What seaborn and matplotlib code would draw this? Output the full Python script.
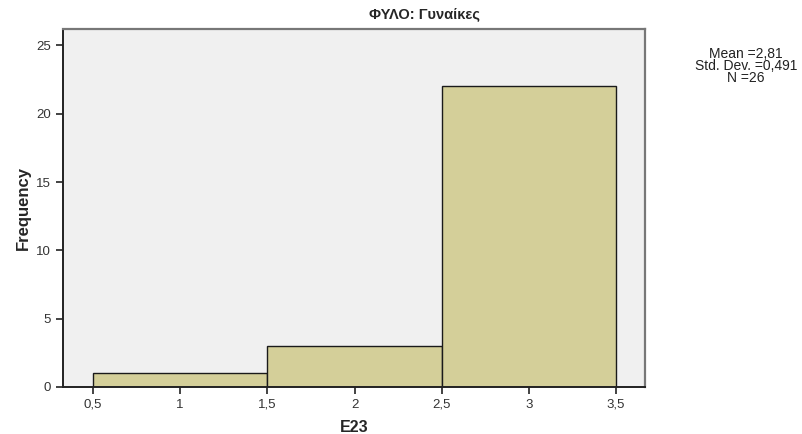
import numpy as np
import pandas as pd
import matplotlib
matplotlib.use("Agg")
import matplotlib.pyplot as plt
import seaborn as sns

# E23 responses (women) and how many gave each answer
values = [1, 2, 3]
counts = [1, 3, 22]
bin_edges = [0.5, 1.5, 2.5, 3.5]
x_ticks = [0.5, 1, 1.5, 2, 2.5, 3, 3.5]
x_ticklabels = ["0,5", "1", "1,5", "2", "2,5", "3", "3,5"]
y_ticks = [0, 5, 10, 15, 20, 25]

df = pd.DataFrame({"E23": values, "n": counts})
data = np.repeat(values, counts)
mean = data.mean()
sd = data.std(ddof=1)

sns.set_style("ticks")
plt.rcParams["font.family"] = ["Liberation Sans", "DejaVu Sans"]

fig = plt.figure(figsize=(8.03, 4.34), dpi=100)
ax = fig.add_axes([0.0785, 0.1083, 0.7247, 0.8249])
ax.set_facecolor("#f0f0f0")

sns.histplot(data=df, x="E23", weights="n", bins=bin_edges, ax=ax,
             color="#d4cf99", edgecolor="#1a1a1a", linewidth=1.0, alpha=1)

ax.set_xlim(0.328, 3.666)
ax.set_ylim(0, 26.2)
ax.set_xticks(x_ticks)
ax.set_xticklabels(x_ticklabels)
ax.set_yticks(y_ticks)
ax.tick_params(axis="both", direction="out", length=5, width=1.2,
               labelsize=9.5, colors="#222222", labelcolor="#333333")
ax.set_xlabel("E23", fontsize=11.5, fontweight="bold")
ax.xaxis.set_label_coords(0.5, -33 / 358)
ax.set_ylabel("Frequency", fontsize=12, fontweight="bold", labelpad=4)

for side in ["left", "bottom"]:
    ax.spines[side].set_color("#222222")
    ax.spines[side].set_linewidth(1.4)
for side in ["top", "right"]:
    ax.spines[side].set_visible(True)
    ax.spines[side].set_color("#777777")
    ax.spines[side].set_linewidth(1.6)

fig.text(425 / 803, 1 - 14 / 434, "ΦΥΛΟ: Γυναίκες", ha="center", va="center",
         fontsize=10.5, fontweight="bold")

stats = "Mean =%s\nStd. Dev. =%s\nN =%d" % (
    f"{mean:.2f}".replace(".", ","), f"{sd:.3f}".replace(".", ","), len(data))
fig.text(746 / 803, 1 - 66 / 434, stats, ha="center", va="center",
         fontsize=10, linespacing=0.8, color="#222222")

fig.savefig("out.png", dpi=100)
